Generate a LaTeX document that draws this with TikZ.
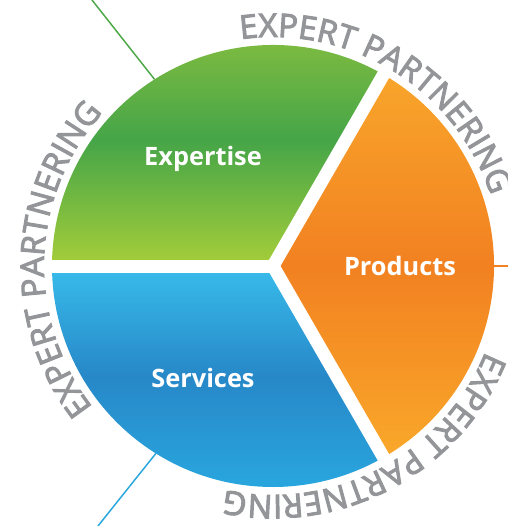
\documentclass[tikz,border=0pt]{standalone}
\usepackage{fontspec}
\setmainfont{Open Sans}
\newfontfamily\arcfont[FakeBold=3]{Open Sans}
\usetikzlibrary{decorations.text}
\definecolor{GreenTop}{RGB}{141, 193, 63}
\definecolor{GreenMid}{RGB}{69, 165, 72}
\definecolor{GreenLow}{RGB}{166, 206, 57}
\definecolor{OrangeTop}{RGB}{248, 165, 43}
\definecolor{OrangeMid}{RGB}{242, 129, 33}
\definecolor{OrangeLow}{RGB}{249, 168, 42}
\definecolor{BlueTop}{RGB}{56, 188, 235}
\definecolor{BlueMid}{RGB}{39, 136, 200}
\definecolor{BlueLow}{RGB}{41, 166, 222}
\definecolor{ArcGray}{RGB}{147, 149, 152}

\begin{document}
\begin{tikzpicture}[x=0.75pt, y=0.75pt,
    gap/.style={white, line width=9.75pt},
    spoke/.style={line width=1.1pt},
    label/.style={text=white, font=\bfseries\fontsize{19}{19}\selectfont}]
    \def\R{221}
    \def\B{229}
    \useasboundingbox (-273,-260) rectangle (235,266);
    % thin lines leaving the wheel
    \coordinate (greenin) at (122.4:\R);
    \coordinate (greenout) at (-181,266);
    \coordinate (bluein) at (238:\R);
    \coordinate (blueout) at (-175,-260);
    \coordinate (orangein) at (0:\R);
    \coordinate (orangeout) at (240,0);
    \draw[spoke, GreenMid!90!GreenTop] (greenin) -- (greenout);
    \draw[spoke, BlueLow] (bluein) -- (blueout);
    \draw[spoke, OrangeMid] (orangein) -- (orangeout);
    % the three sectors
    \shade[top color=GreenTop, bottom color=GreenLow, middle color=GreenMid]
        (0,0) -- (60:\R) arc[start angle=60, end angle=180, radius=\R] -- cycle;
    \shade[top color=OrangeTop, bottom color=OrangeLow, middle color=OrangeMid]
        (0,0) -- (-60:\R) arc[start angle=-60, end angle=60, radius=\R] -- cycle;
    \shade[top color=BlueTop, bottom color=BlueLow, middle color=BlueMid]
        (0,0) -- (180:\R) arc[start angle=180, end angle=300, radius=\R] -- cycle;
    \foreach \a in {60,180,300} {
        \draw[gap] (0,0) -- (\a:\R+8);
    }
    \node[label] (expertise) at (-70,107) {Expertise};
    \node[label] (products) at (127,0) {Products};
    \node[label] (services) at (-70,-112) {Services};
    % curved captions
    \foreach \m in {58,178,298} {
        \path[decorate, decoration={text along path, text align=center,
            text={|\arcfont\fontsize{24.5}{28}\selectfont\color{ArcGray}|EXPERT PARTNERING}}]
            (\m+60:\B) arc[start angle=\m+60, end angle=\m-60, radius=\B];
    }
\end{tikzpicture}
\end{document}
